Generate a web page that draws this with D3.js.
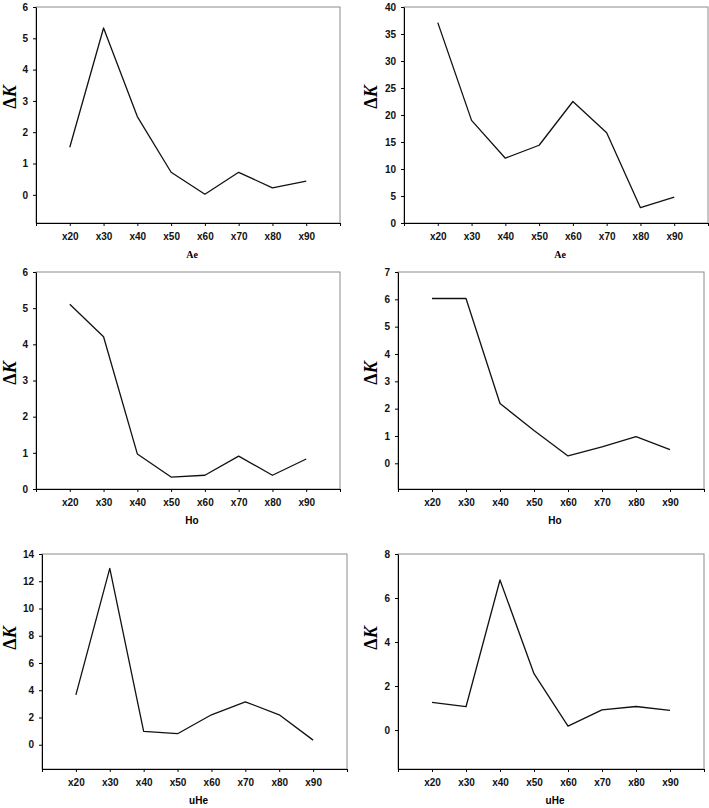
<!DOCTYPE html>
<html>
<head>
<meta charset="utf-8">
<script src="https://cdn.jsdelivr.net/npm/d3@7"></script>
<style>
  body { margin: 0; background: #fff; }
  .tick text { font-family: "Liberation Sans", Arial, sans-serif; font-weight: bold; font-size: 10px; fill: #111; }
  .domain, .tick line { stroke: #000; }
</style>
</head>
<body>
<div id="chart"></div>
<script>
// categories along x
const categories = ["x20", "x30", "x40", "x50", "x60", "x70", "x80", "x90"];

// series values
const aeLeft   = [1.52, 5.33, 2.5, 0.72, 0.02, 0.72, 0.22, 0.44];
const aeRight  = [37.1, 19.0, 12.0, 14.4, 22.5, 16.7, 2.84, 4.8];
const hoLeft   = [5.11, 4.21, 0.97, 0.33, 0.38, 0.91, 0.38, 0.83];
const hoRight  = [6.03, 6.03, 2.19, 1.2, 0.27, 0.6, 0.98, 0.5];
const uheLeft  = [3.66, 12.95, 0.98, 0.81, 2.2, 3.15, 2.2, 0.34];
const uheRight = [1.26, 1.06, 6.82, 2.56, 0.18, 0.92, 1.07, 0.89];

// y tick labels
const ticksAeLeft   = [0, 1, 2, 3, 4, 5, 6];
const ticksAeRight  = [0, 5, 10, 15, 20, 25, 30, 35, 40];
const ticksHoLeft   = [0, 1, 2, 3, 4, 5, 6];
const ticksHoRight  = [0, 1, 2, 3, 4, 5, 6, 7];
const ticksUheLeft  = [0, 2, 4, 6, 8, 10, 12, 14];
const ticksUheRight = [0, 2, 4, 6, 8];

const width = 709, height = 808;

const panels = [
  { values: aeLeft,   ticks: ticksAeLeft,   yMin: -0.9,  title: "Ae",  serif: true,
    left: 36,  right: 340, top: 7,   bottom: 223, labelX: 10,  labelY: 97 },
  { values: aeRight,  ticks: ticksAeRight,  yMin: 0,     title: "Ae",  serif: true,
    left: 404, right: 708, top: 7,   bottom: 223, labelX: 371, labelY: 97 },
  { values: hoLeft,   ticks: ticksHoLeft,   yMin: 0,     title: "Ho",  serif: false,
    left: 36,  right: 340, top: 272, bottom: 489, labelX: 10,  labelY: 373 },
  { values: hoRight,  ticks: ticksHoRight,  yMin: -0.94, title: "Ho",  serif: false,
    left: 398, right: 704, top: 272, bottom: 489, labelX: 371, labelY: 373 },
  { values: uheLeft,  ticks: ticksUheLeft,  yMin: -1.78, title: "uHe", serif: false,
    left: 42,  right: 347, top: 554, bottom: 769, labelX: 10,  labelY: 638 },
  { values: uheRight, ticks: ticksUheRight, yMin: -1.77, title: "uHe", serif: false,
    left: 398, right: 704, top: 554, bottom: 769, labelX: 371, labelY: 638 }
];

const svg = d3.select("#chart").append("svg")
  .attr("width", width)
  .attr("height", height);

panels.forEach(p => {
  const x = d3.scaleLinear().domain([0, categories.length + 1]).range([p.left, p.right]);
  const y = d3.scaleLinear().domain([p.yMin, d3.max(p.ticks)]).range([p.bottom, p.top]);
  const g = svg.append("g");

  // plot area border
  g.append("rect")
    .attr("x", p.left).attr("y", p.top)
    .attr("width", p.right - p.left).attr("height", p.bottom - p.top)
    .attr("fill", "none")
    .attr("stroke", "#8c8c8c")
    .attr("stroke-width", 1);

  g.append("g")
    .attr("transform", `translate(0,${p.bottom})`)
    .call(d3.axisBottom(x)
      .tickValues(d3.range(categories.length + 2))
      .tickFormat(i => categories[i - 1] || "")
      .tickSize(3).tickSizeOuter(0).tickPadding(7));

  g.append("g")
    .attr("transform", `translate(${p.left},0)`)
    .call(d3.axisLeft(y)
      .tickValues(p.ticks)
      .tickFormat(d3.format("d"))
      .tickSize(3).tickSizeOuter(0).tickPadding(5));

  g.append("path")
    .datum(p.values)
    .attr("fill", "none")
    .attr("stroke", "#111")
    .attr("stroke-width", 1.3)
    .attr("stroke-linejoin", "round")
    .attr("d", d3.line().x((d, i) => x(i + 1)).y(d => y(d)));

  // x axis title
  g.append("text")
    .attr("x", (p.left + p.right) / 2 + 4)
    .attr("y", p.bottom + 35)
    .attr("text-anchor", "middle")
    .style("font-family", p.serif ? "'Liberation Serif', serif" : "'Liberation Sans', sans-serif")
    .style("font-weight", "bold")
    .style("font-size", "10px")
    .text(p.title);

  // y axis title
  const yl = g.append("text")
    .attr("transform", `translate(${p.labelX},${p.labelY}) rotate(-90)`)
    .attr("text-anchor", "middle")
    .attr("dy", "0.35em")
    .style("font-family", "'Liberation Serif', serif")
    .style("font-weight", "bold")
    .style("font-size", "18px");
  yl.append("tspan").text("Δ");
  yl.append("tspan").style("font-style", "italic").text("K");
});
</script>
</body>
</html>
